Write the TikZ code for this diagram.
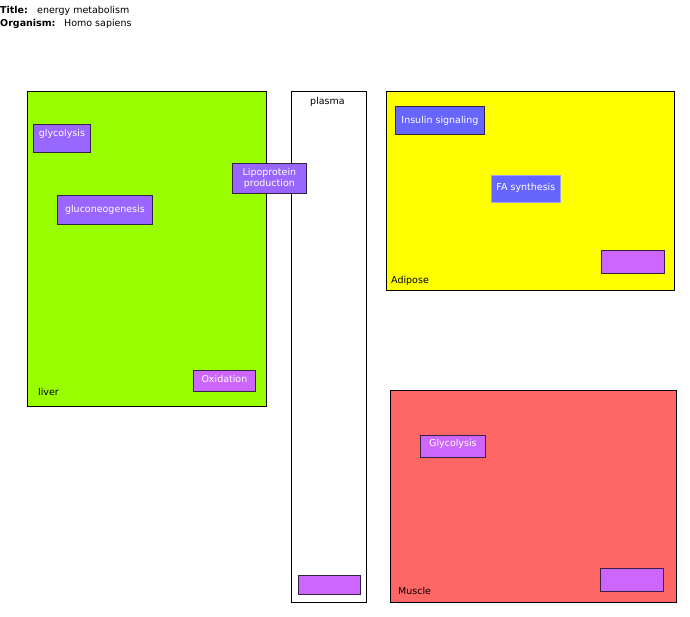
\documentclass[tikz,border=0pt]{standalone}
\usepackage{fontspec}
\setmainfont{DejaVu Sans}
\usetikzlibrary{positioning}
\definecolor{liverGreen}{RGB}{153, 255, 0}
\definecolor{adiposeYellow}{RGB}{255, 255, 0}
\definecolor{muscleRed}{RGB}{255, 102, 102}
\definecolor{procViolet}{RGB}{153, 102, 255}
\definecolor{procPink}{RGB}{204, 102, 255}
\definecolor{procBlue}{RGB}{102, 102, 255}
\definecolor{edgeDark}{RGB}{51, 34, 68}
\tikzset{
    compartment/.style={draw=black, line width=0.8pt, anchor=north west, inner sep=0pt},
    process/.style={draw=edgeDark, line width=0.8pt, anchor=north west, inner sep=0pt},
    proctext/.style={text=white, font=\fontsize{9.5pt}{11pt}\selectfont, align=center, inner sep=0pt},
    complabel/.style={font=\fontsize{9.5pt}{11pt}\selectfont, inner sep=0pt},
}

\begin{document}
\begin{tikzpicture}[x=1pt, y=-1pt]
    \useasboundingbox (0,0) rectangle (690,616);

    % header
    \node[anchor=base west, inner sep=0pt, font=\fontsize{9.5pt}{11pt}\selectfont\bfseries] (titlekey) at (0,13) {Title:};
    \node[anchor=base west, inner sep=0pt, font=\fontsize{9.5pt}{11pt}\selectfont] (titleval) at (37,13) {energy metabolism};
    \node[anchor=base west, inner sep=0pt, font=\fontsize{9.5pt}{11pt}\selectfont\bfseries] (orgkey) at (0,26) {Organism:};
    \node[anchor=base west, inner sep=0pt, font=\fontsize{9.5pt}{11pt}\selectfont] (orgval) at (64,26) {Homo sapiens};

    % compartments
    \node[compartment, fill=liverGreen, minimum width=239pt, minimum height=315pt] (liver) at (27,91) {};
    \node[complabel, anchor=base west] (liverlbl) at (38,395) {liver};

    \node[compartment, fill=white, minimum width=75pt, minimum height=511pt] (plasma) at (291,91) {};
    \node[complabel, anchor=base] (plasmalbl) at (327.5,104) {plasma};

    \node[compartment, fill=adiposeYellow, minimum width=288pt, minimum height=199pt] (adipose) at (386,91) {};
    \node[complabel, anchor=base west] (adiposelbl) at (391,283) {Adipose};

    \node[compartment, fill=muscleRed, minimum width=286pt, minimum height=212pt] (muscle) at (390,390) {};
    \node[complabel, anchor=base west] (musclelbl) at (398,594) {Muscle};

    % liver processes
    \node[process, fill=procViolet, minimum width=57pt, minimum height=28pt] (glyco) at (33,124) {};
    \node[proctext] at ([yshift=5pt]glyco.center) {glycolysis};

    \node[process, fill=procViolet, minimum width=95pt, minimum height=29pt] (gluconeo) at (57,195) {};
    \node[proctext] at (gluconeo.center) {gluconeogenesis};

    \node[process, fill=procViolet, minimum width=74pt, minimum height=30pt] (lipo) at (232,163) {};
    \node[proctext] at (lipo.center) {Lipoprotein\\production};

    \node[process, fill=procPink, minimum width=62pt, minimum height=21pt] (oxid) at (193,370) {};
    \node[proctext] at ([yshift=1.5pt]oxid.center) {Oxidation};

    % plasma
    \node[process, fill=procPink, minimum width=62pt, minimum height=19pt] (plasmabox) at (298,575) {};

    % adipose processes
    \node[process, fill=procBlue, minimum width=89pt, minimum height=28pt] (insulin) at (395,106) {};
    \node[proctext] at (insulin.center) {Insulin signaling};

    \node[process, draw=procBlue!60!white, fill=procBlue, minimum width=69pt, minimum height=27pt] (fasyn) at (491,175) {};
    \node[proctext] at ([yshift=1pt]fasyn.center) {FA synthesis};

    \node[process, fill=procPink, minimum width=63pt, minimum height=23pt] (adibox) at (601,250) {};

    % muscle processes
    \node[process, fill=procPink, minimum width=65pt, minimum height=22pt] (mglyco) at (420,435) {};
    \node[proctext] at ([yshift=3pt]mglyco.center) {Glycolysis};

    \node[process, fill=procPink, minimum width=63pt, minimum height=23pt] (musbox) at (600,568) {};
\end{tikzpicture}
\end{document}
